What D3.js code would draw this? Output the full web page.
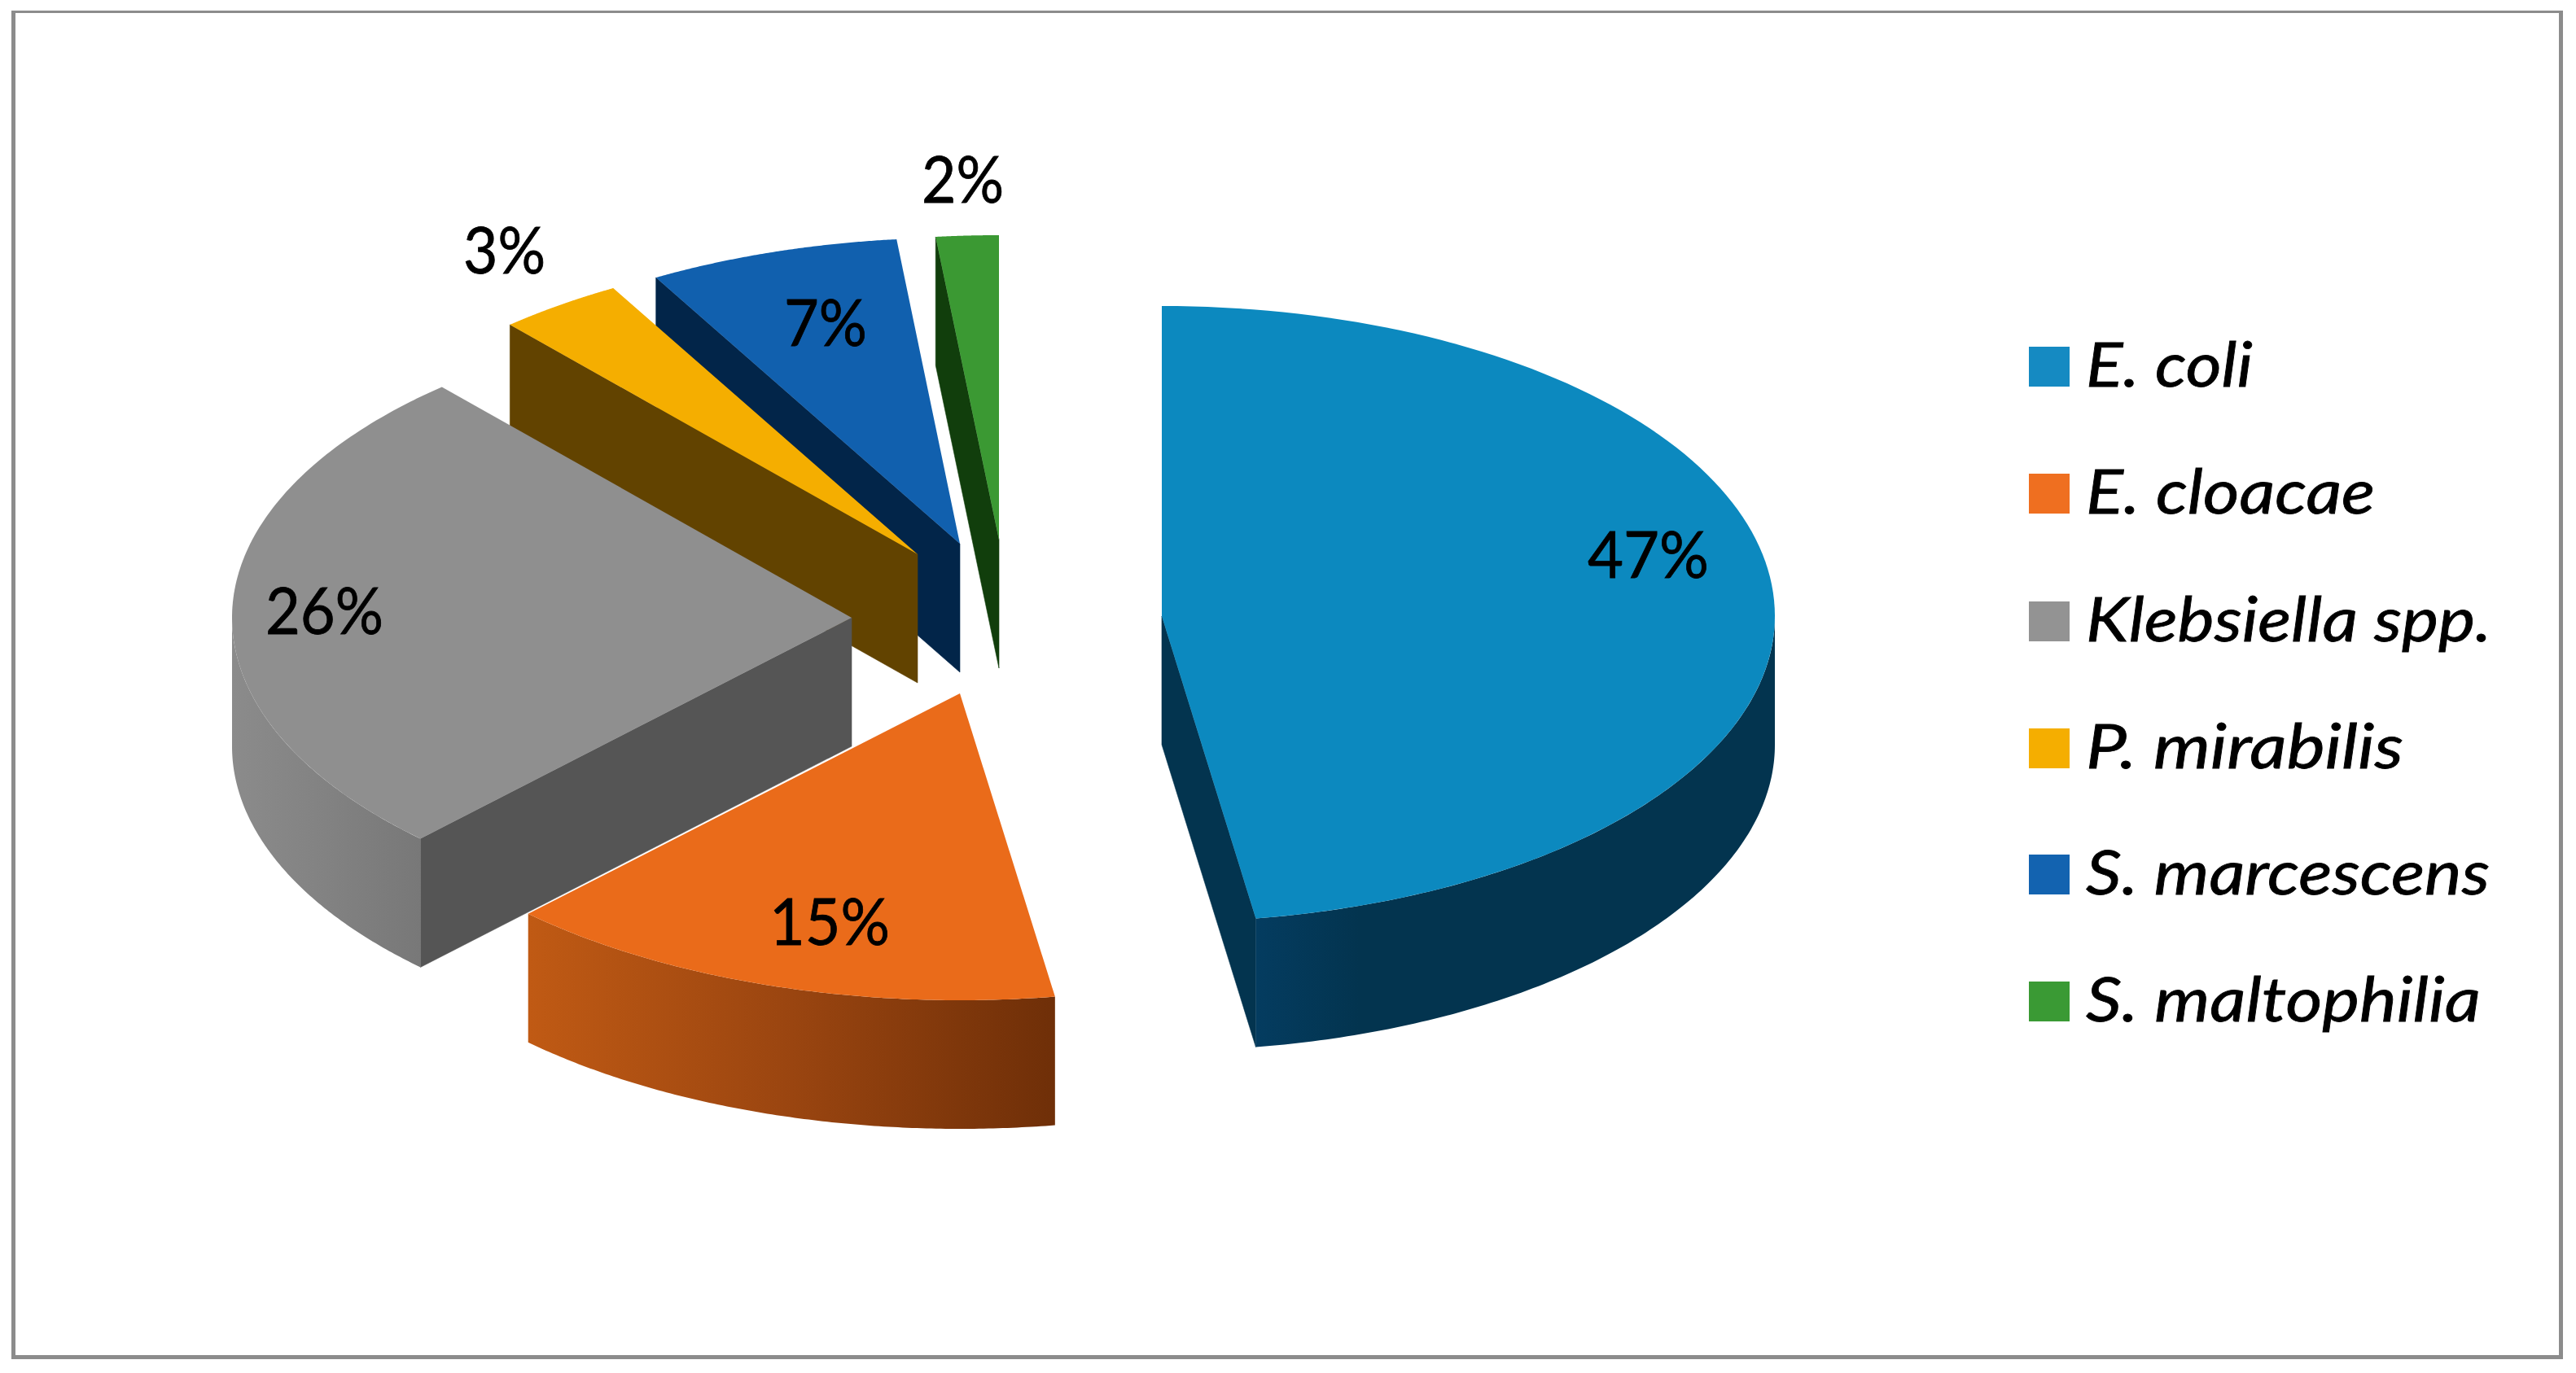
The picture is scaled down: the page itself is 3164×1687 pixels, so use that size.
<!DOCTYPE html>
<html><head><meta charset="utf-8">
<script src="https://cdn.jsdelivr.net/npm/d3@7"></script>
<style>html,body{margin:0;padding:0;background:#fff;overflow:hidden}svg{display:block}text{font-family:Lato,"Open Sans",sans-serif;fill:#000;stroke:#000}</style>
</head><body><div id="chart"></div>
<script>
// data
const categories = ["E. coli","E. cloacae","Klebsiella spp.","P. mirabilis","S. marcescens","S. maltophilia"];
const shares = [47.55,14.7,26.25,3.28,6.58,1.64];     // slice sizes
const labels = ["47%","15%","26%","3%","7%","2%"];    // printed labels

// styles
const topColors = ["#0c89bf","#ea6b1a","#8f8f8f","#f5ae00","#1160ae","#3b9933"];
const legendColors = ["#158ac2","#ef6f20","#939393","#f5ae00","#1363b0","#3a9a34"];
const cutColors = ["#03344f","#6f2f08","#555555","#624300","#022549","#113e0c"];
const wallFrom = ["#043c60","#c05a14","#8b8b8b","#624300","#022549","#113e0c"];
const wallMid = ["#03344f","#9a4510","#828282","#624300","#022549","#113e0c"];
const wallTo = ["#03344f","#6f2f08","#787878","#624300","#022549","#113e0c"];
const wallMidStop = [.2,.5,.5,.5,.5,.5];
// layout
const W=3164,H=1687, depth=158;
const radiusX=[753,762,761,757,756,756];
const radiusBack=[381,377,378,376,376,374];
const radiusFront=[376,377,378,376,376,374];
const apexX=[1427,1179,1046,1127,1179,1227], apexY=[757,852,759,681,668,663];
const labelBox=[[1950,2099,710],[945,1093,1161],[326,471,779],[569,670,336],[963,1065,425],[1132,1233,249]];
const drawOrder=[5,4,3,2,0,1];
const cutAtEnd=[true,false,false,false,false,false];
const hasCutWall=[true,false,true,true,true,true];
const legendX=2492, legendTop=[426,582,739,895,1050,1206], legendTextX=2562;
const legendEnds=[2767,2917,3060,2952,3058,3047];
const frameColor="#8c8c8c";

const svg=d3.select("#chart").append("svg").attr("width",W).attr("height",H);
svg.append("rect").attr("width",W).attr("height",H).attr("fill","#fff");
const frame=svg.append("g").attr("fill",frameColor);
frame.append("rect").attr("x",14).attr("y",13).attr("width",5).attr("height",1657);
frame.append("rect").attr("x",3143).attr("y",13).attr("width",5).attr("height",1657);
frame.append("rect").attr("x",14).attr("y",13).attr("width",3134).attr("height",3);
frame.append("rect").attr("x",14).attr("y",1665).attr("width",3134).attr("height",5);

const arcs=d3.pie().sort(null).value(d=>d).startAngle(0).endAngle(2*Math.PI)(shares);
const defs=svg.append("defs");
const px=(i,a)=>apexX[i]+radiusX[i]*Math.sin(a);
const py=(i,a)=>{const c=Math.cos(a);return apexY[i]-(c>0?radiusBack[i]:radiusFront[i])*c;};
const line=d3.line();
const sample=(i,lo,hi)=>{const n=120;return d3.range(n+1).map(k=>{const t=lo+(hi-lo)*k/n;return [px(i,t),py(i,t)];});};
const pie=svg.append("g");

drawOrder.forEach(i=>{
  const a=arcs[i], g=pie.append("g");
  if(hasCutWall[i]){
    const t=cutAtEnd[i]?a.endAngle:a.startAngle, x=px(i,t), y=py(i,t);
    g.append("path").attr("fill",cutColors[i]).attr("stroke",cutColors[i]).attr("stroke-width",.6)
     .attr("d",line([[apexX[i],apexY[i]],[x,y],[x,y+depth],[apexX[i],apexY[i]+depth]])+"Z");
  }
  const lo=Math.max(a.startAngle,Math.PI/2), hi=Math.min(a.endAngle,3*Math.PI/2);
  if(hi>lo){
    const pts=sample(i,lo,hi), xs=pts.map(p=>p[0]), gid="wall"+i;
    const lg=defs.append("linearGradient").attr("id",gid).attr("gradientUnits","userSpaceOnUse")
      .attr("x1",d3.min(xs)).attr("x2",d3.max(xs)).attr("y1",0).attr("y2",0);
    lg.append("stop").attr("offset",0).attr("stop-color",wallFrom[i]);
    lg.append("stop").attr("offset",wallMidStop[i]).attr("stop-color",wallMid[i]);
    lg.append("stop").attr("offset",1).attr("stop-color",wallTo[i]);
    const wall=pts.concat(pts.slice().reverse().map(p=>[p[0],p[1]+depth]));
    g.append("path").attr("d",line(wall)+"Z").attr("fill",`url(#${gid})`);
  }
  const face=[[apexX[i],apexY[i]]].concat(sample(i,a.startAngle,a.endAngle));
  g.append("path").attr("d",line(face)+"Z").attr("fill",topColors[i]);
});

labels.forEach((t,i)=>{
  const b=labelBox[i];
  svg.append("text").attr("x",b[0]).attr("y",b[2]).attr("font-size",79).attr("stroke-width",.8)
    .attr("textLength",b[1]-b[0]).attr("lengthAdjust","spacingAndGlyphs").text(t);
});

categories.forEach((c,i)=>{
  svg.append("rect").attr("x",legendX).attr("y",legendTop[i]).attr("width",50).attr("height",49).attr("fill",legendColors[i]);
  svg.append("text").attr("x",legendTextX).attr("y",legendTop[i]+49).attr("font-size",76).attr("font-style","italic").attr("stroke-width",.8)
    .attr("textLength",legendEnds[i]-legendTextX).attr("lengthAdjust","spacingAndGlyphs").text(c);
});
</script></body></html>
